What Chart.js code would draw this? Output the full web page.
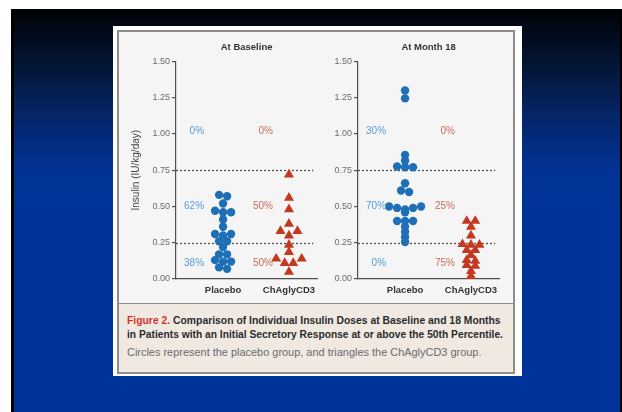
<!DOCTYPE html>
<html>
<head>
<meta charset="utf-8">
<script src="https://cdn.jsdelivr.net/npm/chart.js@4.4.1/dist/chart.umd.min.js"></script>
<style>
  html, body { margin: 0; padding: 0; }
  body {
    width: 622px; height: 412px; position: relative; overflow: hidden;
    background: #ffffff;
    font-family: 'Liberation Sans', Arial, sans-serif;
  }
  .slide {
    position: absolute; left: 11px; top: 9px; width: 611px; height: 403px;
    box-sizing: border-box;
    border-left: 3px solid #000; border-right: 2px solid #000;
    background: linear-gradient(to bottom,
      #000205 0px, #020a1c 25px, #041738 60px, #05266a 110px,
      #023294 160px, #003399 200px, #003399 100%);
  }
  .card {
    position: absolute; left: 113px; top: 26px; width: 409px; height: 350px;
    background: #ffffff;
  }
  .frame {
    position: absolute; left: 117px; top: 30px; width: 398px; height: 344px;
    box-sizing: border-box; border: 2px solid #8d8d8d; background: #f5f5f5;
  }
  .caption-box {
    position: absolute; left: 0; right: 0; bottom: 0; height: 69px;
    box-sizing: border-box; border-top: 1.5px solid #8d8d8d; background: #efe9e2;
  }
  .cap {
    position: absolute; left: 127px; white-space: nowrap;
    font-family: 'Liberation Sans', Arial, sans-serif;
  }
  .cap.b { font-weight: bold; color: #2b2b2b; }
  .cap .fig { color: #d6322b; }
  .cap.r { font-weight: normal; color: #6a6a6a; }
  canvas { position: absolute; }
</style>
</head>
<body>
<div class="slide"></div>
<div class="card"></div>
<div class="frame"><div class="caption-box"></div></div>

<canvas id="baseline" width="205" height="262" style="left:118px; top:36px;"></canvas>
<canvas id="month18" width="185" height="262" style="left:320px; top:36px;"></canvas>

<div class="cap b" id="cap1" data-w="374" data-c="321"><span class="fig">Figure 2.</span> Comparison of Individual Insulin Doses at Baseline and 18 Months</div>
<div class="cap b" id="cap2" data-w="376" data-c="335.5">in Patients with an Initial Secretory Response at or above the 50th Percentile.</div>
<div class="cap r" id="cap3" data-w="355" data-c="353">Circles represent the placebo group, and triangles the ChAglyCD3 group.</div>

<script>
// ---- data -------------------------------------------------------------
const categories = ['Placebo', 'ChAglyCD3'];
const panelTitles = ['At Baseline', 'At Month 18'];
const yTickValues = [0, 0.25, 0.5, 0.75, 1.0, 1.25, 1.5];
const cutoffs = [0.25, 0.75];

// insulin dose, IU/kg/day, one value per patient
const placeboBaseline = [0.58, 0.57, 0.52, 0.47, 0.46, 0.46, 0.41, 0.36, 0.31, 0.31, 0.30,
                         0.26, 0.26, 0.22, 0.17, 0.17, 0.13, 0.12, 0.12, 0.08, 0.07];
const chaglyBaseline  = [0.72, 0.56, 0.48, 0.38, 0.33, 0.33, 0.30,
                         0.235, 0.185, 0.14, 0.14, 0.11, 0.11, 0.05];
const placeboMonth18  = [1.30, 1.245, 0.855, 0.815, 0.775, 0.77, 0.77,
                         0.66, 0.61, 0.60, 0.50, 0.50, 0.49, 0.49, 0.48, 0.46,
                         0.40, 0.40, 0.40, 0.36, 0.325, 0.29, 0.255];
const chaglyMonth18   = [0.40, 0.40, 0.36, 0.30,
                         0.24, 0.235, 0.235, 0.20, 0.20, 0.165, 0.13, 0.125,
                         0.095, 0.09, 0.055, 0.02];

// ---- appearance -------------------------------------------------------
const FONT = "'Liberation Sans', Arial, sans-serif";
Chart.defaults.font.family = FONT;
const AXIS = '#505050';
const catX = [1, 2.4];                 // column centres on the 0..3 x axis
const GROUP_T = 0.033;                  // values closer than this share a row
const series = [
  { name: categories[0], style: 'circle',   radius: 4.2, color: '#1f6fb6', label: '#5a9bd3', slotPx: 8,   labelDx: -19 },
  { name: categories[1], style: 'triangle', radius: 5.8, color: '#c3391f', label: '#cc6b5c', slotPx: 8.5, labelDx: -16 }
];
const bandLabelY = [1.02, 0.5, 0.11];   // high / middle / low band label rows

// Column scatter: values falling in the same row are spread symmetrically,
// the higher ones towards the outside of the row.
function swarmSlots(values) {
  const order = values.map((v, i) => i).sort((a, b) => values[b] - values[a]);
  const slots = new Array(values.length);
  let group = [];
  const flush = () => {
    const n = group.length;
    const pos = [];
    for (let k = 0; k < n; k++) pos.push(k - (n - 1) / 2);
    pos.sort((a, b) => Math.abs(b) - Math.abs(a) || a - b);
    group.forEach((idx, j) => { slots[idx] = pos[j]; });
    group = [];
  };
  order.forEach(i => {
    if (group.length && values[group[0]] - values[i] > GROUP_T) flush();
    group.push(i);
  });
  flush();
  return slots;
}

function bandPercents(values) {
  const n = values.length;
  const hi = values.filter(v => v > cutoffs[1]).length;
  const lo = values.filter(v => v < cutoffs[0]).length;
  const mid = n - hi - lo;
  return [hi, mid, lo].map(c => Math.round(100 * c / n) + '%');
}

// dashed cut-off lines and the share of patients in each band
const bandPlugin = {
  id: 'bands',
  beforeDatasetsDraw(chart) {
    const { ctx, chartArea, scales: { y } } = chart;
    ctx.save();
    ctx.strokeStyle = AXIS;
    ctx.lineWidth = 1.3;
    ctx.setLineDash([2, 2]);
    cutoffs.forEach(c => {
      const py = Math.round(y.getPixelForValue(c)) + 0.5;
      ctx.beginPath();
      ctx.moveTo(chartArea.left, py);
      ctx.lineTo(chartArea.right - 4, py);
      ctx.stroke();
    });
    ctx.restore();
  },
  afterDatasetsDraw(chart) {
    const { ctx, scales: { x, y } } = chart;
    ctx.save();
    ctx.font = '10px ' + FONT;
    ctx.textAlign = 'right';
    ctx.textBaseline = 'middle';
    chart.data.datasets.forEach((ds, k) => {
      const s = series[k];
      const texts = bandPercents(ds.values);
      ctx.fillStyle = s.label;
      texts.forEach((t, b) => {
        ctx.fillText(t, x.getPixelForValue(catX[k]) + s.labelDx, y.getPixelForValue(bandLabelY[b]));
      });
    });
    ctx.restore();
  }
};

function makePanel(id, title, placebo, chagly, yAxisWidth, showYTitle) {
  const sets = [placebo, chagly];
  const chart = new Chart(document.getElementById(id), {
    type: 'scatter',
    data: {
      datasets: sets.map((vals, k) => ({
        label: series[k].name,
        values: vals,
        data: vals.map(v => ({ x: catX[k], y: v })),
        pointStyle: series[k].style,
        pointRadius: series[k].radius,
        backgroundColor: series[k].color,
        borderColor: series[k].color,
        borderWidth: 0,
        showLine: false
      }))
    },
    options: {
      responsive: false,
      animation: false,
      events: [],
      layout: { padding: { left: 0, right: 4, top: 0, bottom: 0 } },
      plugins: {
        legend: { display: false },
        tooltip: { enabled: false },
        title: {
          display: true, text: title, fullSize: false,
          color: '#333333', font: { size: 9.5, weight: 'bold' },
          padding: { top: 6, bottom: 8 }
        }
      },
      scales: {
        x: {
          type: 'linear', min: 0, max: 3,
          grid: { display: false, drawTicks: false },
          border: { display: true, color: AXIS, width: 1.2 },
          afterBuildTicks: s => { s.ticks = catX.map(v => ({ value: v })); },
          afterFit: s => { s.height = 19; },
          ticks: {
            padding: 6, maxRotation: 0, autoSkip: false,
            color: '#333333', font: { size: 9.5, weight: 'bold' },
            callback: (v, i) => categories[i]
          }
        },
        y: {
          type: 'linear', min: 0, max: 1.5,
          grid: { display: true, drawOnChartArea: false, drawTicks: true, tickLength: 4, color: AXIS, lineWidth: 1.2 },
          border: { display: true, color: AXIS, width: 1.2 },
          afterBuildTicks: s => { s.ticks = yTickValues.map(v => ({ value: v })); },
          afterFit: s => { s.width = yAxisWidth; },
          ticks: {
            padding: 2, color: '#6b6b6b', font: { size: 9 },
            callback: v => Number(v).toFixed(2)
          },
          title: {
            display: showYTitle, text: 'Insulin (IU/kg/day)',
            color: '#444444', font: { size: 10 },
            padding: { top: 12, bottom: 0 }
          }
        }
      }
    },
    plugins: [bandPlugin]
  });

  // spread each column once the pixel scale is known
  const xs = chart.scales.x;
  const ppu = xs.getPixelForValue(1) - xs.getPixelForValue(0);
  chart.data.datasets.forEach((ds, k) => {
    const slots = swarmSlots(ds.values);
    ds.data = ds.values.map((v, i) => ({ x: catX[k] + slots[i] * series[k].slotPx / ppu, y: v }));
  });
  chart.update('none');
  return chart;
}

makePanel('baseline', panelTitles[0], placeboBaseline, chaglyBaseline, 58, true);
makePanel('month18', panelTitles[1], placeboMonth18, chaglyMonth18, 38, false);

// caption lines: size each line to its column width
document.querySelectorAll('.cap').forEach(el => {
  el.style.fontSize = '10px';
  const w = el.getBoundingClientRect().width;
  const size = 10 * Number(el.dataset.w) / w;
  el.style.fontSize = size.toFixed(2) + 'px';
  el.style.lineHeight = (size * 1.2).toFixed(2) + 'px';
  el.style.top = (Number(el.dataset.c) - size * 0.6).toFixed(1) + 'px';
});
</script>
</body>
</html>
